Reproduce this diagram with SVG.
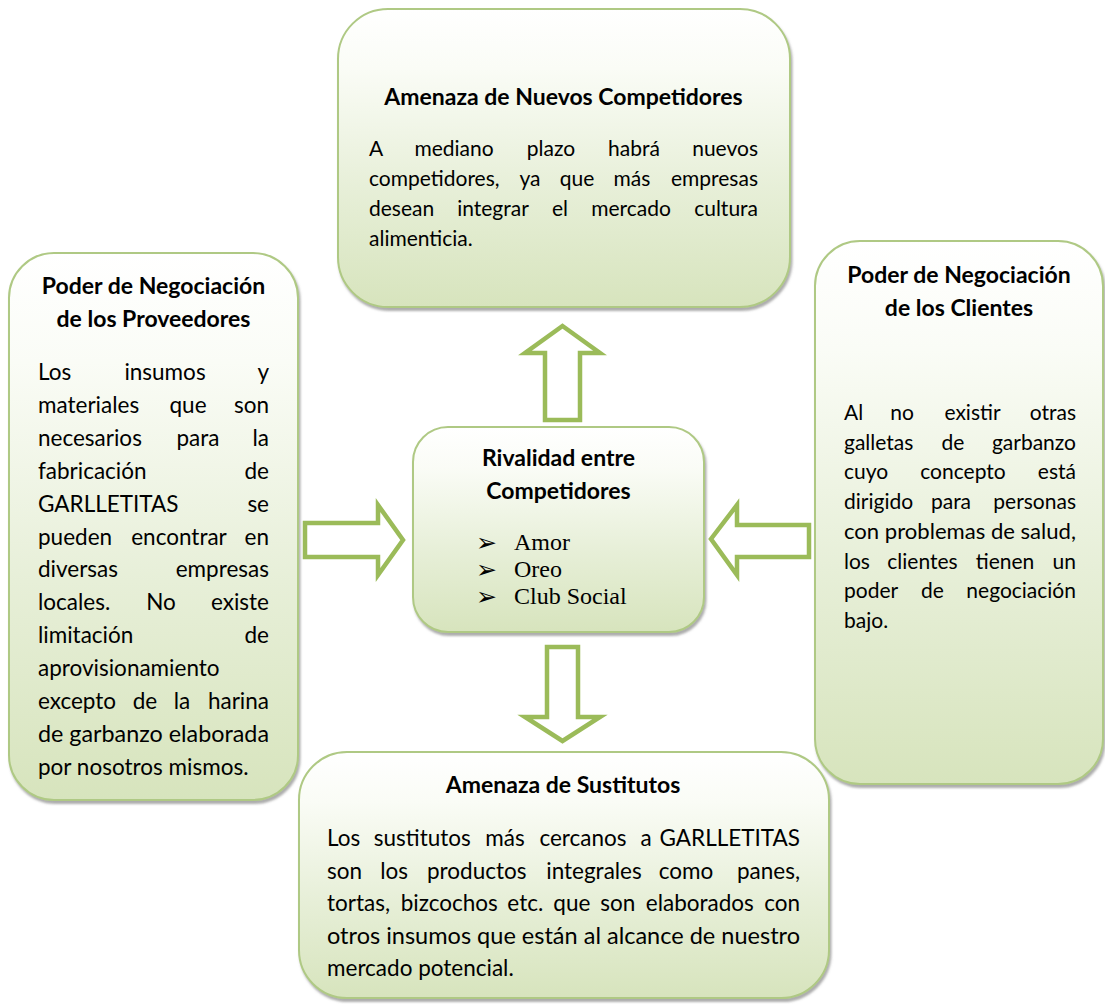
<svg xmlns="http://www.w3.org/2000/svg" width="1105" height="1004" viewBox="0 0 1105 1004">
<style>
.box{fill:url(#g);stroke:#AFC984;stroke-width:2;filter:url(#sh)}
.t{font-family:Lato,"Open Sans","Liberation Sans",sans-serif;fill:#000}
.h{font-weight:bold;font-size:23px;text-anchor:middle}
.b21{font-size:21px}
.b23{font-size:22.5px}
.m{text-anchor:middle}
.e{text-anchor:end}
.arrow{fill:#fff;stroke:#9BBB59;stroke-width:4.5;stroke-linejoin:miter}
.bul{font-family:"DejaVu Sans",sans-serif;font-size:25px}
.ser{font-family:"Liberation Serif","Times New Roman",serif;font-size:24px}
</style>
<defs>
<linearGradient id="g" x1="0" y1="0" x2="0" y2="1">
<stop offset="0" stop-color="#FFFFFF"/>
<stop offset="0.2" stop-color="#FAFCF6"/>
<stop offset="0.6" stop-color="#E7EFD8"/>
<stop offset="1" stop-color="#D7E4BD"/>
</linearGradient>
<filter id="sh" x="-5%" y="-5%" width="112%" height="112%">
<feDropShadow dx="1.5" dy="3" stdDeviation="1.3" flood-color="#6b6b6b" flood-opacity="0.55"/>
</filter>
</defs>
<rect width="1105" height="1004" fill="#fff"/>

<g id="connectors">
<polygon class="arrow" points="562.5,326 600,353 580,353 580,420 545,420 545,353 525,353"/>
<polygon class="arrow" points="305,523 378,523 378,505 403,540 378,575 378,557 305,557"/>
<polygon class="arrow" points="809,525 737,525 737,505 711,539 737,575 737,557 809,557"/>
<polygon class="arrow" points="547,647 578,647 578,717 600,717 562.5,741 525,717 547,717"/>
</g>

<g id="node-nuevos">
<rect class="box" x="338" y="9" width="452" height="298" rx="50"/>
<text class="t h" x="563.5" y="105">Amenaza de Nuevos Competidores</text>
<text class="t b21" y="156"><tspan x="369">A</tspan><tspan class="m" x="454">mediano</tspan><tspan class="m" x="551">plazo</tspan><tspan class="m" x="634">habrá</tspan><tspan class="e" x="758">nuevos</tspan></text>
<text class="t b21" y="186"><tspan x="369">competidores,</tspan><tspan class="m" x="530">ya</tspan><tspan class="m" x="577">que</tspan><tspan class="m" x="632">más</tspan><tspan class="e" x="758">empresas</tspan></text>
<text class="t b21" y="216"><tspan x="369">desean</tspan><tspan class="m" x="493">integrar</tspan><tspan class="m" x="560">el</tspan><tspan class="m" x="631">mercado</tspan><tspan class="e" x="758">cultura</tspan></text>
<text class="t b21" x="369" y="246">alimenticia.</text>
</g>

<g id="node-proveedores">
<rect class="box" x="9" y="253" width="289" height="547" rx="45"/>
<text class="t h" x="153.5" y="294">Poder de Negociación</text>
<text class="t h" x="153.5" y="327">de los Proveedores</text>
<text class="t b23" y="380"><tspan x="38">Los</tspan><tspan class="m" x="165">insumos</tspan><tspan class="e" x="269">y</tspan></text>
<text class="t b23" y="412.9"><tspan x="38">materiales</tspan><tspan class="m" x="188">que</tspan><tspan class="e" x="269">son</tspan></text>
<text class="t b23" y="445.8"><tspan x="38">necesarios</tspan><tspan class="m" x="198">para</tspan><tspan class="e" x="269">la</tspan></text>
<text class="t b23" y="478.7"><tspan x="38">fabricación</tspan><tspan class="e" x="269">de</tspan></text>
<text class="t b23" y="511.6"><tspan x="38">GARLLETITAS</tspan><tspan class="e" x="269">se</tspan></text>
<text class="t b23" y="544.5"><tspan x="38">pueden</tspan><tspan class="m" x="179">encontrar</tspan><tspan class="e" x="269">en</tspan></text>
<text class="t b23" y="577.4"><tspan x="38">diversas</tspan><tspan class="e" x="269">empresas</tspan></text>
<text class="t b23" y="610.3"><tspan x="38">locales.</tspan><tspan class="m" x="161">No</tspan><tspan class="e" x="269">existe</tspan></text>
<text class="t b23" y="643.2"><tspan x="38">limitación</tspan><tspan class="e" x="269">de</tspan></text>
<text class="t b23" x="38" y="676.1">aprovisionamiento</text>
<text class="t b23" y="709"><tspan x="38">excepto</tspan><tspan class="m" x="145">de</tspan><tspan class="m" x="182">la</tspan><tspan class="e" x="269">harina</tspan></text>
<text class="t b23" x="38" y="741.9" textLength="231" lengthAdjust="spacingAndGlyphs">de garbanzo elaborada</text>
<text class="t b23" x="38" y="774.8">por nosotros mismos.</text>
</g>

<g id="node-clientes">
<rect class="box" x="815" y="241" width="288" height="543" rx="45"/>
<text class="t h" x="959" y="283">Poder de Negociación</text>
<text class="t h" x="959" y="316">de los Clientes</text>
<text class="t b21" y="420"><tspan x="844">Al</tspan><tspan class="m" x="902">no</tspan><tspan class="m" x="972.5">existir</tspan><tspan class="e" x="1076">otras</tspan></text>
<text class="t b21" y="449.7"><tspan x="844">galletas</tspan><tspan class="m" x="953">de</tspan><tspan class="e" x="1076">garbanzo</tspan></text>
<text class="t b21" y="479.4"><tspan x="844">cuyo</tspan><tspan class="m" x="963">concepto</tspan><tspan class="e" x="1076">está</tspan></text>
<text class="t b21" y="509.1"><tspan x="844">dirigido</tspan><tspan class="m" x="951">para</tspan><tspan class="e" x="1076">personas</tspan></text>
<text class="t b21" x="844" y="538.8" textLength="232" lengthAdjust="spacingAndGlyphs">con problemas de salud,</text>
<text class="t b21" y="568.5"><tspan x="844">los</tspan><tspan class="m" x="922.5">clientes</tspan><tspan class="m" x="1005">tienen</tspan><tspan class="e" x="1076">un</tspan></text>
<text class="t b21" y="598.2"><tspan x="844">poder</tspan><tspan class="m" x="932.5">de</tspan><tspan class="e" x="1076">negociación</tspan></text>
<text class="t b21" x="844" y="627.9">bajo.</text>
</g>

<g id="node-rivalidad">
<rect class="box" x="413" y="427" width="291" height="205" rx="35"/>
<text class="t h" x="558.5" y="466">Rivalidad entre</text>
<text class="t h" x="558.5" y="499">Competidores</text>
<text class="bul" x="476" y="551">➢</text>
<text class="bul" x="476" y="578">➢</text>
<text class="bul" x="476" y="605">➢</text>
<text class="ser" x="514" y="550">Amor</text>
<text class="ser" x="514" y="577">Oreo</text>
<text class="ser" x="514" y="604">Club Social</text>
</g>

<g id="node-sustitutos">
<rect class="box" x="299" y="752" width="530" height="246" rx="48"/>
<text class="t h" x="563" y="793">Amenaza de Sustitutos</text>
<text class="t b23" y="846"><tspan x="327">Los</tspan><tspan class="m" x="422.3">sustitutos</tspan><tspan class="m" x="505">más</tspan><tspan class="m" x="583">cercanos</tspan><tspan class="m" x="646">a</tspan><tspan class="e" x="800">GARLLETITAS</tspan></text>
<text class="t b23" y="878.5"><tspan x="327">son</tspan><tspan class="m" x="394.2">los</tspan><tspan class="m" x="476.7">productos</tspan><tspan class="m" x="594">integrales</tspan><tspan class="m" x="686">como</tspan><tspan class="e" x="800">panes,</tspan></text>
<text class="t b23" y="911"><tspan x="327">tortas,</tspan><tspan class="m" x="449.3">bizcochos</tspan><tspan class="m" x="525.3">etc.</tspan><tspan class="m" x="571.8">que</tspan><tspan class="m" x="617.7">son</tspan><tspan class="m" x="699.8">elaborados</tspan><tspan class="e" x="800">con</tspan></text>
<text class="t b23" x="327" y="943.5" textLength="473" lengthAdjust="spacingAndGlyphs">otros insumos que están al alcance de nuestro</text>
<text class="t b23" x="327" y="976">mercado potencial.</text>
</g>
</svg>
